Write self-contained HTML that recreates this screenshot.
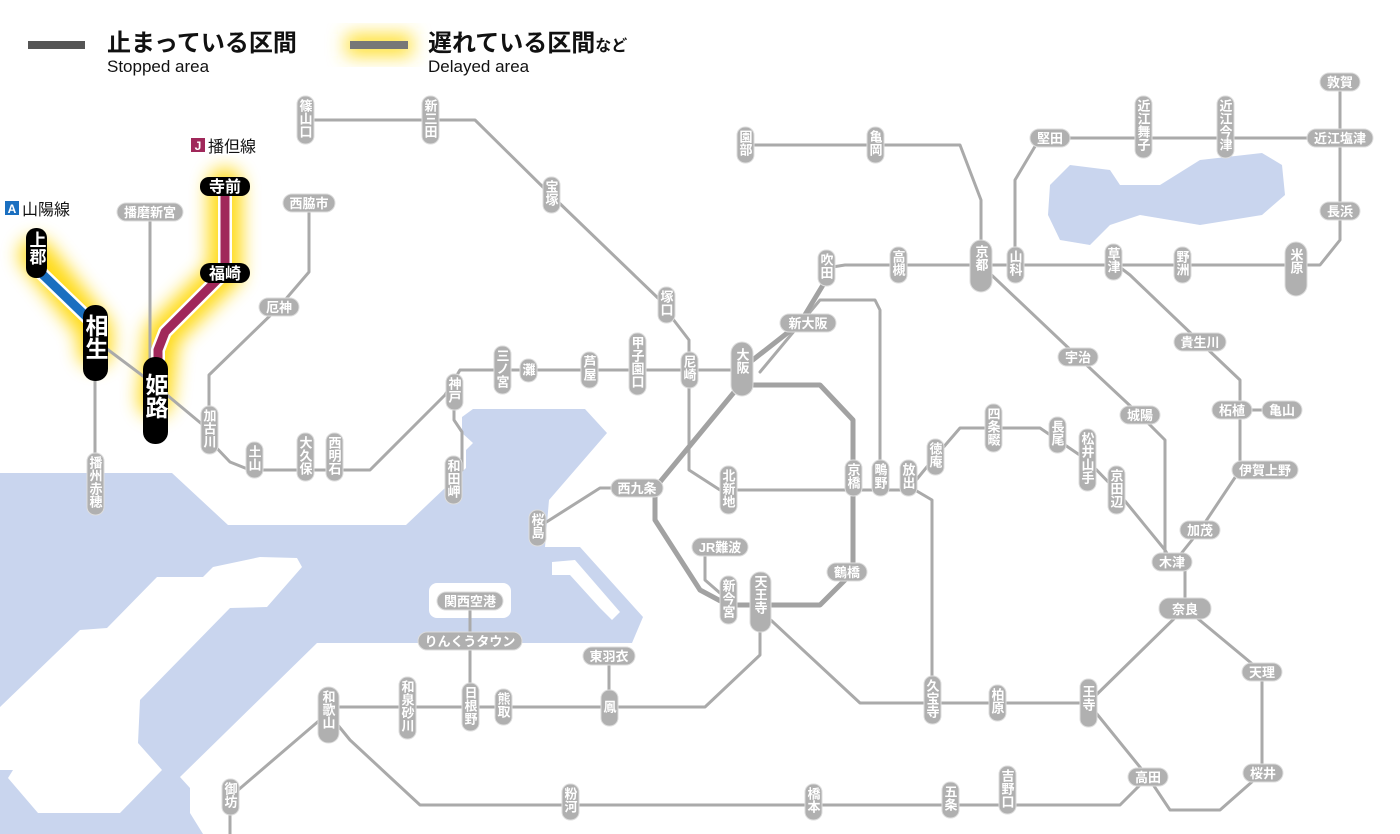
<!DOCTYPE html>
<html><head><meta charset="utf-8"><style>
html,body{margin:0;padding:0;background:#fff;}
svg{display:block;font-family:"Liberation Sans","Noto Sans CJK JP",sans-serif;}
.l{fill:none;stroke:#aaa;stroke-width:3;stroke-linejoin:round;stroke-linecap:round}
.lt{fill:none;stroke:#a2a2a2;stroke-width:5;stroke-linejoin:round}
.p{fill:#b0b0b0;stroke:#ddd;stroke-width:1}
.t{fill:#fff;font-size:13px;font-weight:bold}
.v{writing-mode:vertical-rl;text-anchor:start}
.h{text-anchor:middle}
.b{fill:#000}
.bt{fill:#fff;font-weight:bold}
</style></head><body>
<svg width="1400" height="834" viewBox="0 0 1400 834" xmlns="http://www.w3.org/2000/svg">
<defs><filter id="g" x="-50%" y="-50%" width="200%" height="200%"><feGaussianBlur stdDeviation="9"/></filter></defs>
<!-- water -->
<g fill="#c9d5ee">
<path d="M0,473 L172,473 L228,525 L406,525 L466,468 L466,450 L473,443 L462,433 L462,417 L473,409 L585,409 L607,433 L549,500 L545,547 L580,547 L643,617 L632,643 L317,643 L180,777 L190,788 L190,813 L203,834 L0,834 Z"/>
<path d="M1050,185 L1070,165 L1110,170 L1120,185 L1160,185 L1200,160 L1262,153 L1282,165 L1285,195 L1262,215 L1200,225 L1140,215 L1110,225 L1090,245 L1060,240 L1048,215 Z"/>
</g>
<g fill="#fff">
<path d="M0,707 L80,630 L107,628 L157,577 L203,577 L213,567 L260,557 L297,558 L302,567 L267,607 L230,608 L140,700 L138,743 L162,770 L120,813 L38,813 L8,778 L13,770 L0,770 Z"/>
<rect x="429" y="583" width="82" height="35" rx="8"/>
<path d="M552,562 L575,560 L620,612 L612,620 L600,608 L570,575 L552,575 Z" fill="#fff"/>
</g>
<!-- legend -->
<rect x="28" y="41" width="57" height="8" fill="#555"/>
<text x="107" y="51" font-size="24" font-weight="bold" fill="#111">止まっている区間</text>
<text x="107" y="72" font-size="17" fill="#111">Stopped area</text>
<rect x="346" y="34" width="66" height="22" fill="#ffe030" filter="url(#g)"/>
<rect x="350" y="41" width="58" height="8" fill="#777"/>
<text x="428" y="51" font-size="24" font-weight="bold" fill="#111">遅れている区間<tspan font-size="16">など</tspan></text>
<text x="428" y="72" font-size="17" fill="#111">Delayed area</text>
<!-- glows -->
<g stroke="#ffd700" stroke-width="34" fill="none" filter="url(#g)" stroke-linecap="round" opacity="0.9">
<polyline points="36,255 95,330 95,350"/>
<polyline points="225,185 225,272 162,335 155,400"/>
</g>
<!-- lines -->
<g class="l">
<polyline points="95,340 155,385 209,430"/>
<polyline points="150,220 150,380"/>
<polyline points="95,360 95,483"/>
<polyline points="209,440 230,462 250,470 370,470 445,395 460,370 740,370"/>
<polyline points="209,420 209,375 279,307 309,272 309,210"/>
<polyline points="454,400 454,420 462,432 462,470 454,480"/>
<polyline points="305,120 475,120 551,195 660,300 666,310 689,340 689,470 720,490 908,490"/>
<polyline points="745,145 960,145 981,200 981,265"/>
<polyline points="826,268 845,265 1320,265 1340,240 1340,82"/>
<polyline points="1015,265 1015,180 1040,138 1340,138"/>
<polyline points="760,372 820,300 875,300 880,310 880,478"/>
<polyline points="655,488 600,488 537,528"/>
<polyline points="705,547 705,580 728,600"/>
<polyline points="908,490 935,457 960,428 1040,428 1087,460 1116,490 1165,550 1172,562"/>
<polyline points="981,265 1078,357 1140,415 1165,440 1165,562"/>
<polyline points="1113,262 1130,275 1200,342 1240,380 1240,410 1282,410"/>
<polyline points="1240,410 1240,470 1200,530 1180,555"/>
<polyline points="1185,560 1185,608 1262,672 1262,773 1220,810 1170,810 1148,777"/>
<polyline points="760,610 860,703 1088,703 1185,608"/>
<polyline points="915,490 932,500 932,700"/>
<polyline points="1088,703 1148,777 1120,805 420,805 350,740 328,713"/>
<polyline points="760,610 760,655 705,707 328,707"/>
<polyline points="609,656 609,708"/>
<polyline points="470,707 470,601"/>
<polyline points="328,713 230,797 230,834"/>
</g>
<g class="lt">
<polyline points="740,385 820,385 853,420 853,572 820,605 728,605 700,590 655,520 655,488 740,385"/>
<polyline points="740,370 800,323 826,280"/>
</g>
<!-- colored delayed lines -->
<polyline points="38,270 95,325" stroke="#fff" stroke-width="14" fill="none"/>
<polyline points="38,270 95,325" stroke="#1a6fc0" stroke-width="9" fill="none"/>
<polyline points="225,190 225,272 165,332 158,350 158,365" stroke="#fff" stroke-width="14" fill="none" stroke-linejoin="round"/>
<polyline points="225,190 225,272 165,332 158,350 158,365" stroke="#a0285a" stroke-width="9" fill="none" stroke-linejoin="round"/>
<!-- line labels -->
<rect x="3" y="198" width="78" height="20" fill="#fff"/>
<rect x="5" y="201" width="14" height="14" fill="#1a6fc0"/><text x="12" y="213" font-size="12" fill="#fff" text-anchor="middle" font-weight="bold">A</text>
<text x="22" y="215" font-size="16" fill="#111">山陽線</text>
<rect x="188" y="135" width="78" height="20" fill="#fff"/>
<rect x="191" y="138" width="14" height="14" fill="#a0285a"/><text x="198" y="150" font-size="12" fill="#fff" text-anchor="middle" font-weight="bold">J</text>
<text x="208" y="152" font-size="16" fill="#111">播但線</text>
<!-- black pills -->
<rect class="b" x="26" y="228" width="21" height="50" rx="10"/>
<text class="bt v" x="36" y="231" font-size="17">上郡</text>
<rect class="b" x="83" y="305" width="25" height="76" rx="12"/>
<text class="bt v" x="95" y="314" font-size="23">相生</text>
<rect class="b" x="143" y="357" width="25" height="87" rx="12"/>
<text class="bt v" x="155" y="373" font-size="23">姫路</text>
<rect class="b" x="200" y="177" width="50" height="19" rx="9"/>
<text class="bt h" x="225" y="192" font-size="16">寺前</text>
<rect class="b" x="200" y="263" width="50" height="20" rx="10"/>
<text class="bt h" x="225" y="279" font-size="16">福崎</text>
<!-- vertical pills -->
<g>
<rect class="p" x="297" y="96" width="17" height="48" rx="8"/><text class="t v" x="305" y="99">篠山口</text>
<rect class="p" x="422" y="96" width="17" height="48" rx="8"/><text class="t v" x="430" y="99">新三田</text>
<rect class="p" x="543" y="177" width="17" height="36" rx="8"/><text class="t v" x="551" y="180">宝塚</text>
<rect class="p" x="658" y="287" width="17" height="36" rx="8"/><text class="t v" x="666" y="290">塚口</text>
<rect class="p" x="681" y="352" width="17" height="36" rx="8"/><text class="t v" x="689" y="355">尼崎</text>
<rect class="p" x="731" y="342" width="22" height="54" rx="11"/><text class="t v" x="742" y="348" font-size="17">大阪</text>
<rect class="p" x="629" y="333" width="17" height="62" rx="8"/><text class="t v" x="637" y="336">甲子園口</text>
<rect class="p" x="581" y="352" width="17" height="36" rx="8"/><text class="t v" x="589" y="355">芦屋</text>
<rect class="p" x="520" y="359" width="17" height="23" rx="8"/><text class="t v" x="528" y="363">灘</text>
<rect class="p" x="494" y="346" width="17" height="48" rx="8"/><text class="t v" x="502" y="349">三ノ宮</text>
<rect class="p" x="446" y="374" width="17" height="36" rx="8"/><text class="t v" x="454" y="377">神戸</text>
<rect class="p" x="445" y="456" width="17" height="48" rx="8"/><text class="t v" x="453" y="459">和田岬</text>
<rect class="p" x="326" y="433" width="17" height="48" rx="8"/><text class="t v" x="334" y="436">西明石</text>
<rect class="p" x="297" y="433" width="17" height="48" rx="8"/><text class="t v" x="305" y="436">大久保</text>
<rect class="p" x="246" y="442" width="17" height="36" rx="8"/><text class="t v" x="254" y="445">土山</text>
<rect class="p" x="201" y="406" width="17" height="48" rx="8"/><text class="t v" x="209" y="409">加古川</text>
<rect class="p" x="87" y="453" width="17" height="62" rx="8"/><text class="t v" x="95" y="456">播州赤穂</text>
<rect class="p" x="737" y="127" width="17" height="36" rx="8"/><text class="t v" x="745" y="130">園部</text>
<rect class="p" x="867" y="127" width="17" height="36" rx="8"/><text class="t v" x="875" y="130">亀岡</text>
<rect class="p" x="970" y="240" width="22" height="52" rx="11"/><text class="t v" x="981" y="245" font-size="17">京都</text>
<rect class="p" x="1007" y="247" width="17" height="36" rx="8"/><text class="t v" x="1015" y="250">山科</text>
<rect class="p" x="1135" y="96" width="17" height="62" rx="8"/><text class="t v" x="1143" y="99">近江舞子</text>
<rect class="p" x="1217" y="96" width="17" height="62" rx="8"/><text class="t v" x="1225" y="99">近江今津</text>
<rect class="p" x="1285" y="242" width="22" height="54" rx="11"/><text class="t v" x="1296" y="248" font-size="17">米原</text>
<rect class="p" x="1174" y="247" width="17" height="36" rx="8"/><text class="t v" x="1182" y="250">野洲</text>
<rect class="p" x="1105" y="244" width="17" height="36" rx="8"/><text class="t v" x="1113" y="247">草津</text>
<rect class="p" x="890" y="247" width="17" height="36" rx="8"/><text class="t v" x="898" y="250">高槻</text>
<rect class="p" x="818" y="250" width="17" height="36" rx="8"/><text class="t v" x="826" y="253">吹田</text>
<rect class="p" x="1080" y="679" width="17" height="48" rx="8"/><text class="t v" x="1088" y="685">王寺</text>
<rect class="p" x="989" y="685" width="17" height="36" rx="8"/><text class="t v" x="997" y="688">柏原</text>
<rect class="p" x="924" y="676" width="17" height="48" rx="8"/><text class="t v" x="932" y="679">久宝寺</text>
<rect class="p" x="900" y="460" width="17" height="36" rx="8"/><text class="t v" x="908" y="463">放出</text>
<rect class="p" x="872" y="460" width="17" height="36" rx="8"/><text class="t v" x="880" y="463">鴫野</text>
<rect class="p" x="845" y="460" width="17" height="36" rx="8"/><text class="t v" x="853" y="463">京橋</text>
<rect class="p" x="927" y="439" width="17" height="36" rx="8"/><text class="t v" x="935" y="442">徳庵</text>
<rect class="p" x="985" y="404" width="17" height="48" rx="8"/><text class="t v" x="993" y="407">四条畷</text>
<rect class="p" x="1049" y="417" width="17" height="36" rx="8"/><text class="t v" x="1057" y="420">長尾</text>
<rect class="p" x="1079" y="429" width="17" height="62" rx="8"/><text class="t v" x="1087" y="432">松井山手</text>
<rect class="p" x="1108" y="466" width="17" height="48" rx="8"/><text class="t v" x="1116" y="469">京田辺</text>
<rect class="p" x="720" y="466" width="17" height="48" rx="8"/><text class="t v" x="728" y="469">北新地</text>
<rect class="p" x="529" y="510" width="17" height="36" rx="8"/><text class="t v" x="537" y="513">桜島</text>
<rect class="p" x="720" y="576" width="17" height="48" rx="8"/><text class="t v" x="728" y="579">新今宮</text>
<rect class="p" x="750" y="572" width="21" height="60" rx="10"/><text class="t v" x="760" y="575" font-size="16">天王寺</text>
<rect class="p" x="601" y="690" width="17" height="36" rx="8"/><text class="t v" x="609" y="700">鳳</text>
<rect class="p" x="495" y="689" width="17" height="36" rx="8"/><text class="t v" x="503" y="692">熊取</text>
<rect class="p" x="462" y="683" width="17" height="48" rx="8"/><text class="t v" x="470" y="686">日根野</text>
<rect class="p" x="399" y="677" width="17" height="62" rx="8"/><text class="t v" x="407" y="680">和泉砂川</text>
<rect class="p" x="318" y="687" width="21" height="56" rx="10"/><text class="t v" x="328" y="690" font-size="16">和歌山</text>
<rect class="p" x="222" y="779" width="17" height="36" rx="8"/><text class="t v" x="230" y="782">御坊</text>
<rect class="p" x="562" y="784" width="17" height="36" rx="8"/><text class="t v" x="570" y="787">粉河</text>
<rect class="p" x="805" y="784" width="17" height="36" rx="8"/><text class="t v" x="813" y="787">橋本</text>
<rect class="p" x="942" y="782" width="17" height="36" rx="8"/><text class="t v" x="950" y="785">五条</text>
<rect class="p" x="999" y="766" width="17" height="48" rx="8"/><text class="t v" x="1007" y="769">吉野口</text>
</g>
<!-- horizontal pills -->
<g>
<rect class="p" x="780" y="314" width="56" height="18" rx="9"/><text class="t h" x="808" y="328">新大阪</text>
<rect class="p" x="259" y="298" width="40" height="18" rx="9"/><text class="t h" x="279" y="312">厄神</text>
<rect class="p" x="283" y="194" width="52" height="18" rx="9"/><text class="t h" x="309" y="208">西脇市</text>
<rect class="p" x="117" y="203" width="66" height="18" rx="9"/><text class="t h" x="150" y="217">播磨新宮</text>
<rect class="p" x="1030" y="129" width="40" height="18" rx="9"/><text class="t h" x="1050" y="143">堅田</text>
<rect class="p" x="1320" y="73" width="40" height="18" rx="9"/><text class="t h" x="1340" y="87">敦賀</text>
<rect class="p" x="1307" y="129" width="66" height="18" rx="9"/><text class="t h" x="1340" y="143">近江塩津</text>
<rect class="p" x="1320" y="202" width="40" height="18" rx="9"/><text class="t h" x="1340" y="216">長浜</text>
<rect class="p" x="1058" y="348" width="40" height="18" rx="9"/><text class="t h" x="1078" y="362">宇治</text>
<rect class="p" x="1120" y="406" width="40" height="18" rx="9"/><text class="t h" x="1140" y="420">城陽</text>
<rect class="p" x="1174" y="333" width="52" height="18" rx="9"/><text class="t h" x="1200" y="347">貴生川</text>
<rect class="p" x="1212" y="401" width="40" height="18" rx="9"/><text class="t h" x="1232" y="415">柘植</text>
<rect class="p" x="1262" y="401" width="40" height="18" rx="9"/><text class="t h" x="1282" y="415">亀山</text>
<rect class="p" x="1232" y="461" width="66" height="18" rx="9"/><text class="t h" x="1265" y="475">伊賀上野</text>
<rect class="p" x="1180" y="521" width="40" height="18" rx="9"/><text class="t h" x="1200" y="535">加茂</text>
<rect class="p" x="1152" y="553" width="40" height="18" rx="9"/><text class="t h" x="1172" y="567">木津</text>
<rect class="p" x="1159" y="598" width="52" height="21" rx="10"/><text class="t h" x="1185" y="614" font-size="16">奈良</text>
<rect class="p" x="1242" y="663" width="40" height="18" rx="9"/><text class="t h" x="1262" y="677">天理</text>
<rect class="p" x="1243" y="764" width="40" height="18" rx="9"/><text class="t h" x="1263" y="778">桜井</text>
<rect class="p" x="1128" y="768" width="40" height="18" rx="9"/><text class="t h" x="1148" y="782">高田</text>
<rect class="p" x="611" y="479" width="52" height="18" rx="9"/><text class="t h" x="637" y="493">西九条</text>
<rect class="p" x="692" y="538" width="56" height="18" rx="9"/><text class="t h" x="720" y="552">JR難波</text>
<rect class="p" x="827" y="563" width="40" height="18" rx="9"/><text class="t h" x="847" y="577">鶴橋</text>
<rect class="p" x="437" y="592" width="66" height="18" rx="9"/><text class="t h" x="470" y="606">関西空港</text>
<rect class="p" x="418" y="632" width="104" height="18" rx="9"/><text class="t h" x="470" y="646">りんくうタウン</text>
<rect class="p" x="583" y="647" width="52" height="18" rx="9"/><text class="t h" x="609" y="661">東羽衣</text>
</g>
</svg>
</body></html>
